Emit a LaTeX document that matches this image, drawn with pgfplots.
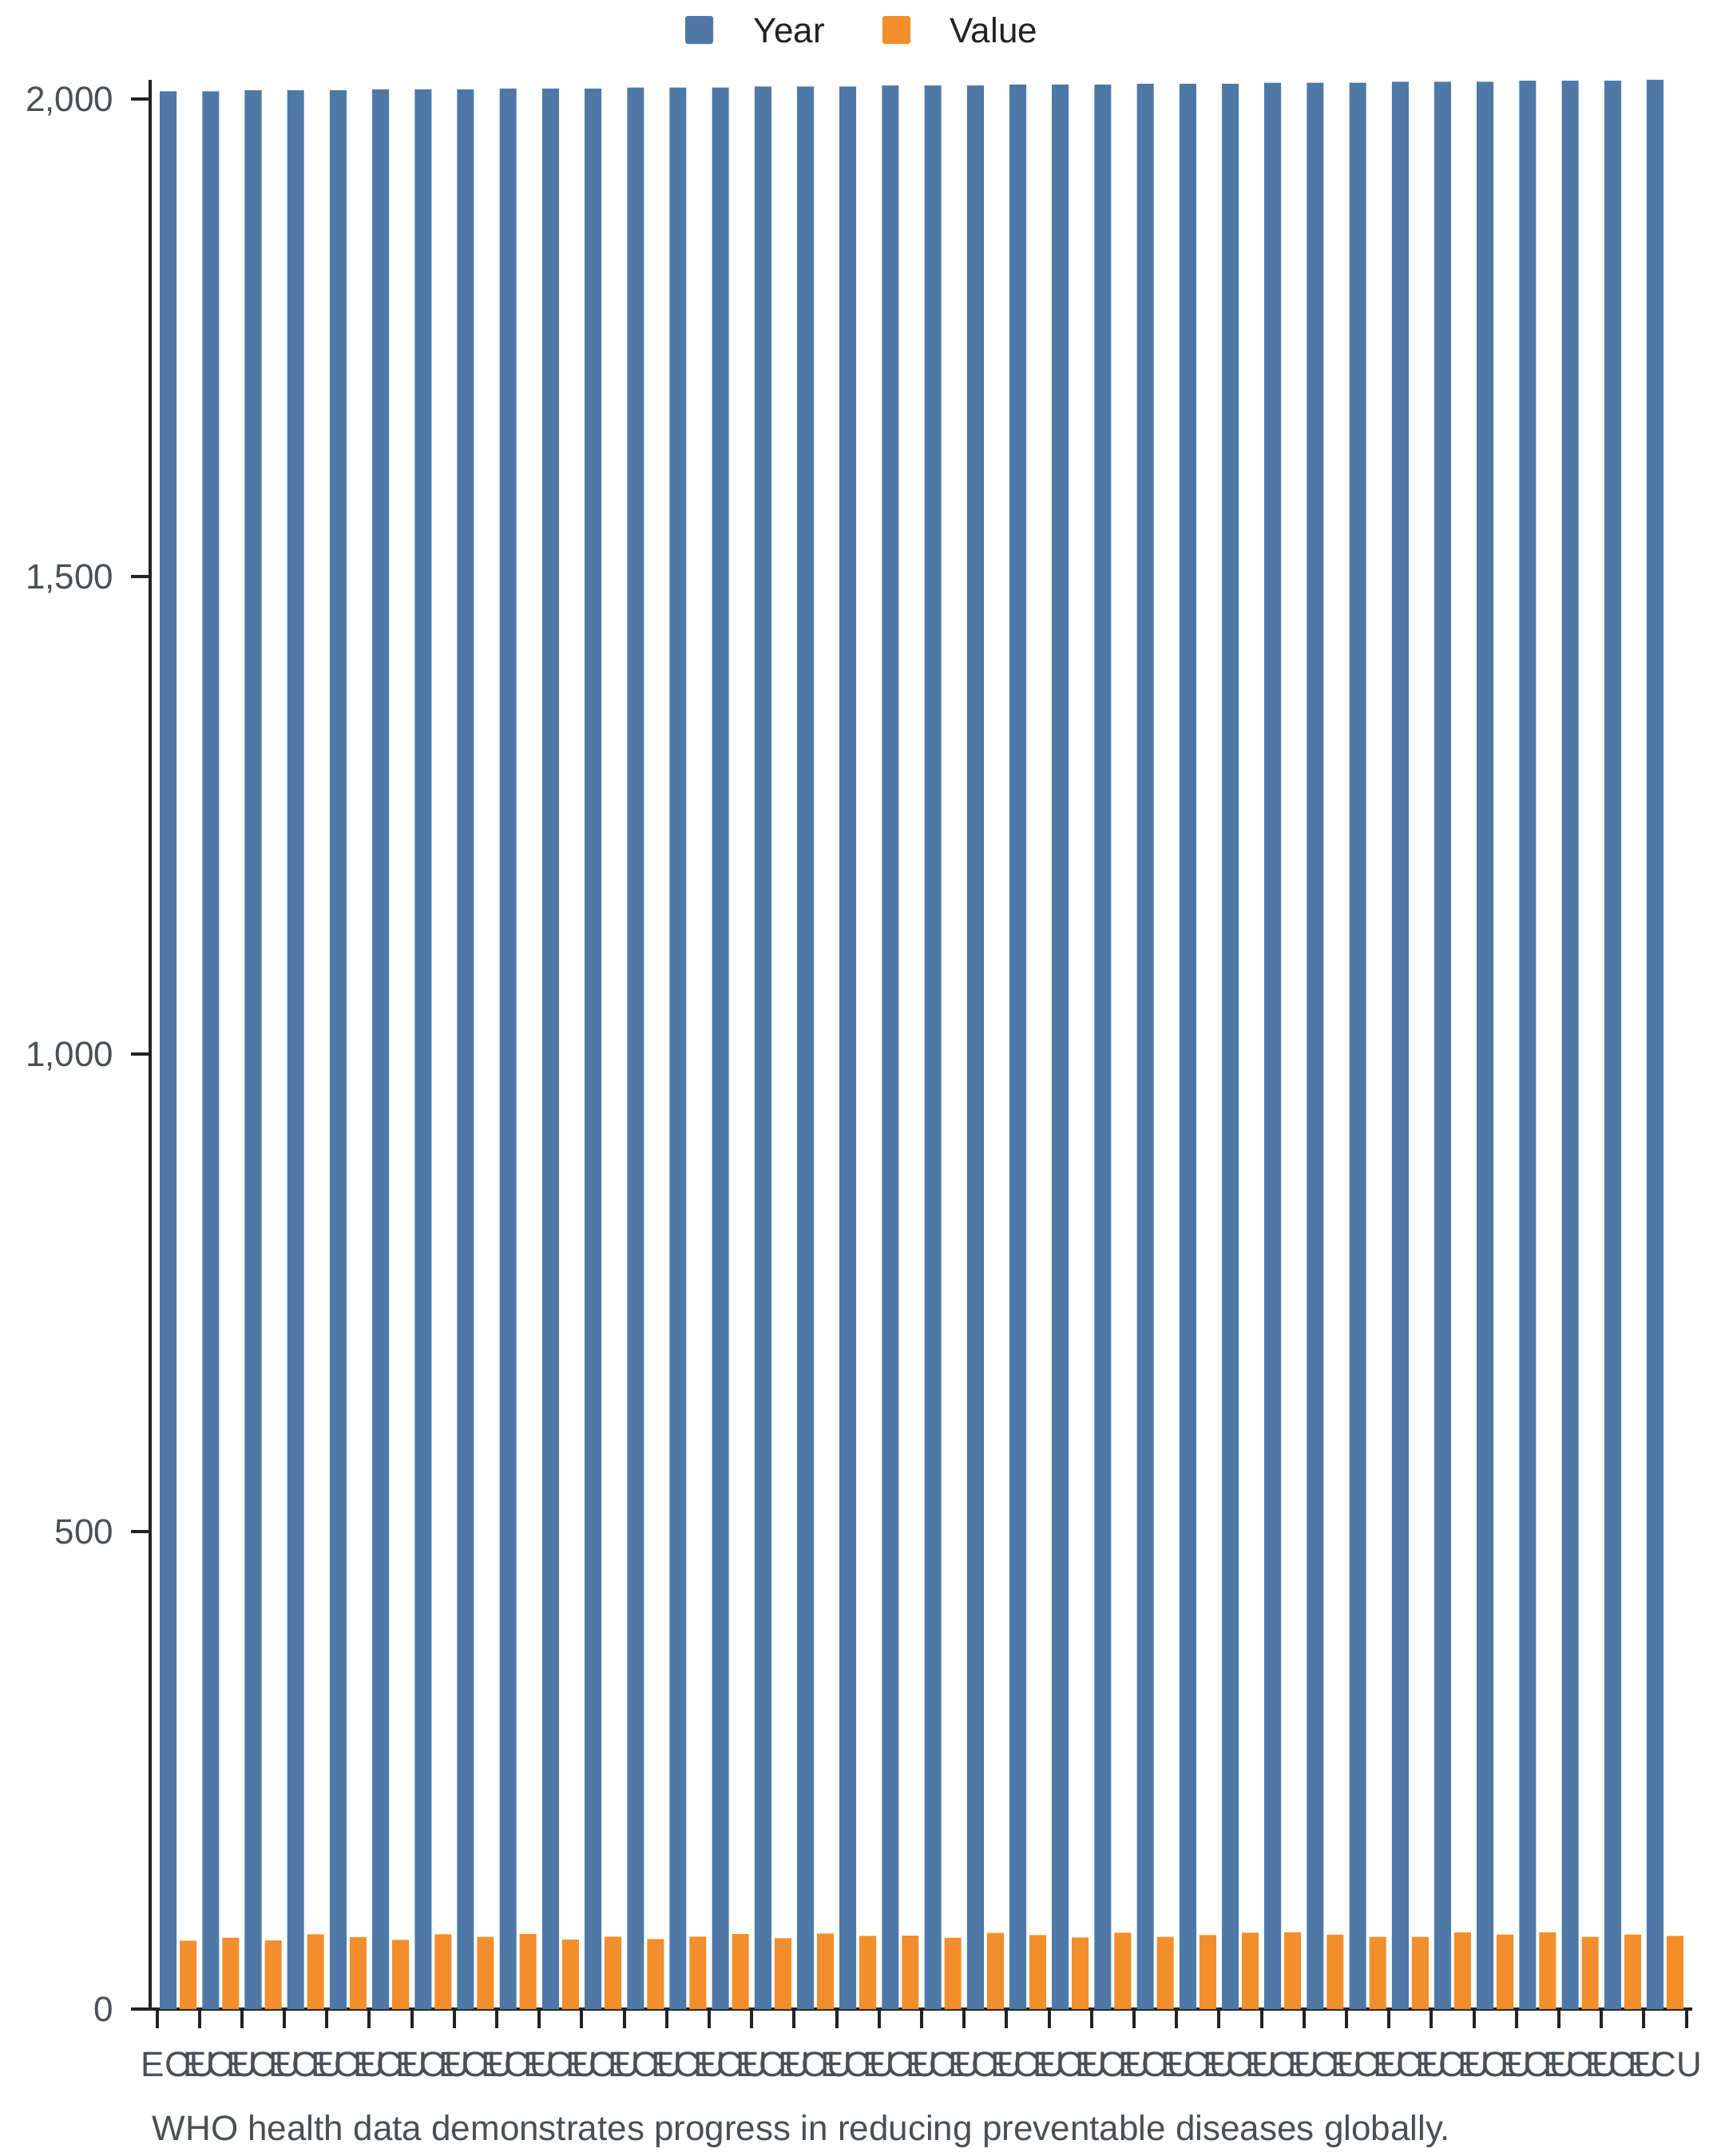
\documentclass[border=0pt]{standalone}
\usepackage{pgfplots}
\pgfplotsset{compat=1.18}
\usepackage{fontspec}
\setmainfont{Liberation Sans}
\definecolor{cblue}{HTML}{4E79A7}
\definecolor{corange}{HTML}{F28E2B}
\definecolor{axiscol}{HTML}{222222}
\definecolor{labcol}{HTML}{4A4F55}
\definecolor{legcol}{HTML}{222222}
\begin{document}
\begin{tikzpicture}
\useasboundingbox (0,0) rectangle (540pt,-675pt);
\begin{axis}[
  at={(47pt,-629pt)}, anchor=south west, scale only axis,
  width=482.75pt, height=604pt,
  xmin=-0.66, xmax=35.64, ymin=0, ymax=2020,
  axis x line*=bottom, axis y line*=left,
  axis line style={line width=1pt, draw=axiscol, -},
  tick style={line width=1pt, draw=axiscol},
  major tick length=6pt, tick align=outside,
  xtick={-0.5,0.5,...,35.5}, xticklabels={},
  extra x ticks={0,1,...,35},
  extra x tick labels={ECU,ECU,ECU,ECU,ECU,ECU,ECU,ECU,ECU,ECU,ECU,ECU,ECU,ECU,ECU,ECU,ECU,ECU,ECU,ECU,ECU,ECU,ECU,ECU,ECU,ECU,ECU,ECU,ECU,ECU,ECU,ECU,ECU,ECU,ECU,ECU},
  extra x tick style={major tick length=0pt,
    xticklabel style={font=\fontsize{11pt}{13pt}\selectfont, text=labcol, inner sep=0pt, anchor=north, yshift=-13.25pt}},
  ytick={0,500,1000,1500,2000},
  scaled y ticks=false,
  yticklabel style={font=\fontsize{11pt}{13pt}\selectfont, text=labcol, inner sep=0pt, anchor=east, text depth=0pt, xshift=-5.25pt,
    /pgf/number format/.cd, 1000 sep={,}, assume math mode=true},
  clip=false,
]
\addplot[ybar, fill=cblue, draw=none, bar width=5.25pt, bar shift=-3.125pt] coordinates {
(0,2008) (1,2008) (2,2009) (3,2009) (4,2009) (5,2010) (6,2010) (7,2010) (8,2011) (9,2011) (10,2011) (11,2012) (12,2012) (13,2012) (14,2013) (15,2013) (16,2013) (17,2014) (18,2014) (19,2014) (20,2015) (21,2015) (22,2015) (23,2016) (24,2016) (25,2016) (26,2017) (27,2017) (28,2017) (29,2018) (30,2018) (31,2018) (32,2019) (33,2019) (34,2019) (35,2020)
};
\addplot[ybar, fill=corange, draw=none, bar width=5.25pt, bar shift=3.125pt] coordinates {
(0,71.7) (1,74.7) (2,71.9) (3,78.3) (4,75.3) (5,72.5) (6,78.3) (7,75.5) (8,78.6) (9,72.7) (10,75.8) (11,73.3) (12,75.8) (13,78.6) (14,74.1) (15,79.2) (16,76.7) (17,76.9) (18,74.7) (19,79.7) (20,77.5) (21,75.0) (22,80.0) (23,75.5) (24,77.5) (25,80.0) (26,80.3) (27,77.8) (28,75.5) (29,75.5) (30,80.3) (31,78.0) (32,80.5) (33,75.5) (34,78.0) (35,76.7)
};
\end{axis}
% legend
\fill[cblue, rounded corners=0.75pt] (214.5pt,-5pt) rectangle (223.25pt,-13.75pt);
\node[anchor=base west, inner sep=0pt, text=legcol, font=\fontsize{11pt}{13pt}\selectfont] at (235.75pt,-13.3pt) {Year};
\fill[corange, rounded corners=0.75pt] (276.25pt,-5pt) rectangle (285pt,-13.75pt);
\node[anchor=base west, inner sep=0pt, text=legcol, font=\fontsize{11pt}{13pt}\selectfont] at (297.25pt,-13.3pt) {Value};
% caption
\node[anchor=base west, inner sep=0pt, text=labcol, font=\fontsize{11pt}{13pt}\selectfont] at (47.5pt,-670pt) {WHO health data demonstrates progress in reducing preventable diseases globally.};
\end{tikzpicture}
\end{document}
